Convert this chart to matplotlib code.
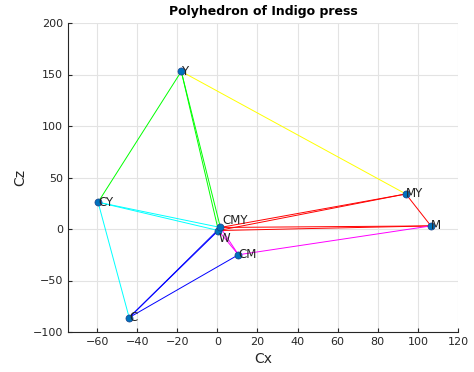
import numpy as np
import matplotlib
matplotlib.use("Agg")
from matplotlib import pyplot as plt

# vertex names and projected coordinates (Cx, Cz)
names = ["W", "CMY", "C", "M", "Y", "CM", "CY", "MY"]
cx = [0.5, 1.5, -44, 106.5, -18, 10.5, -59.5, 94]
cz = [-1.5, 1.5, -86, 3, 153, -25, 26, 34]

# edges of the polyhedron (vertex name pairs) and their colours
edges = [
    ("W", "Y"), ("CMY", "Y"), ("W", "CY"), ("CMY", "CY"),
    ("W", "C"), ("CMY", "C"), ("W", "CM"), ("CMY", "CM"),
    ("W", "M"), ("CMY", "M"), ("W", "MY"), ("CMY", "MY"),
    ("Y", "CY"), ("Y", "MY"), ("CY", "C"), ("C", "CM"),
    ("CM", "M"), ("M", "MY"),
]
edge_colors = [
    "#00ff00", "#00ff00", "#00ffff", "#00ffff",
    "#0000ff", "#0000ff", "#ff00ff", "#ff00ff",
    "#ff0000", "#ff0000", "#ff0000", "#ff0000",
    "#00ff00", "#ffff00", "#00ffff", "#0000ff",
    "#ff00ff", "#ff0000",
]

fig = plt.figure(figsize=(4.74, 3.72), dpi=100)
ax = fig.add_axes([68 / 474, 40 / 372, 390 / 474, 309 / 372])

idx = {n: i for i, n in enumerate(names)}
for (a, b), col in zip(edges, edge_colors):
    i, j = idx[a], idx[b]
    ax.plot([cx[i], cx[j]], [cz[i], cz[j]], color=col, lw=0.7, zorder=2)

ax.scatter(cx, cz, s=26, color="#0072bd", edgecolor="#1a3f8a", lw=0.5, zorder=3)
for n, x, y in zip(names, cx, cz):
    if n == "W":
        ax.text(x, y - 1, n, fontsize=8.5, ha="left", va="top", color="#222222", zorder=4)
    elif n == "CMY":
        ax.text(x + 1, y, n, fontsize=8.5, ha="left", va="bottom", color="#222222", zorder=4)
    else:
        ax.text(x, y, n, fontsize=8.5, ha="left", va="center", color="#222222", zorder=4)

ax.set_xlim(-74.5, 120)
ax.set_ylim(-100, 200)
ax.set_xticks(np.arange(-60, 121, 20))
ax.set_yticks(np.arange(-100, 201, 50))
ax.grid(True, color="#e3e3e3", lw=0.8)
ax.set_axisbelow(True)
for s in ["top", "right"]:
    ax.spines[s].set_visible(False)
for s in ["left", "bottom"]:
    ax.spines[s].set_color("#262626")
    ax.spines[s].set_linewidth(0.8)
ax.tick_params(direction="in", length=3, labelsize=8, colors="#262626")
ax.set_xlabel("Cx", fontsize=10, color="#262626")
ax.set_ylabel("Cz", fontsize=10, color="#262626")
ax.set_title("Polyhedron of Indigo press", fontsize=9, fontweight="bold", pad=6)

fig.savefig("out.png", dpi=100)
